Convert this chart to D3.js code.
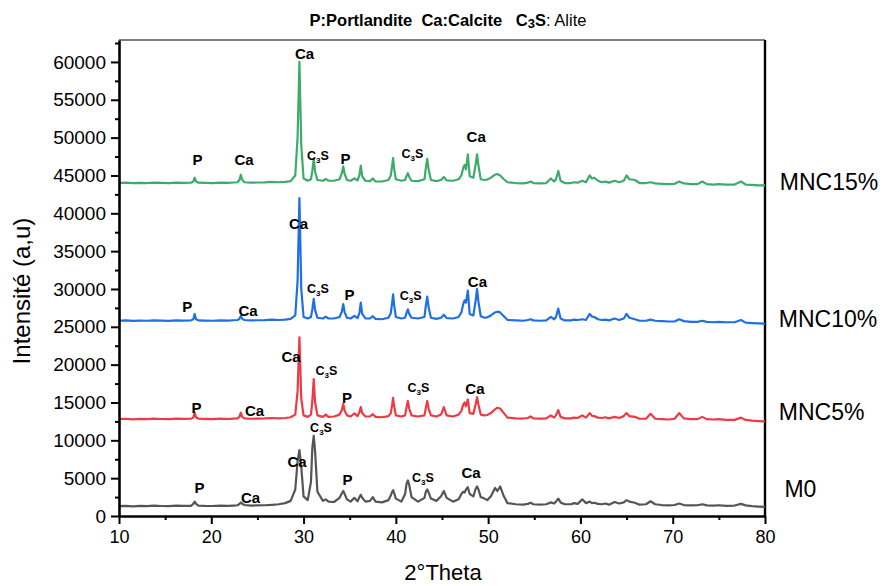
<!DOCTYPE html>
<html>
<head>
<meta charset="utf-8">
<script src="https://cdn.jsdelivr.net/npm/d3@7"></script>
<style>
  body { margin: 0; background: #fff; }
  svg { display: block; }
  text { font-family: "Liberation Sans", Arial, Helvetica, sans-serif; fill: #000; }
</style>
</head>
<body>
<svg id="chart" width="883" height="586"></svg>
<script>
// Diffraction angles shared by all four patterns (2θ, degrees)
const twoTheta = [
  10, 10.7, 11.5, 12.3, 13, 13.8, 14.6, 15.4, 16.2, 17,
  17.8, 18.05, 18.2, 18.35, 18.6,
  19.3, 20.1, 21, 21.8, 22.4,
  22.85, 23.05, 23.2, 23.35, 23.6,
  24.3, 25, 25.8, 26.6, 27.3, 28, 28.6,
  29.1, 29.35, 29.55, 29.75, 30.0,
  30.45,
  30.8, 30.95, 31.1, 31.25, 31.5,
  32.1, 32.4, 32.7,
  33.3,
  33.9, 34.15, 34.3, 34.45, 34.7,
  35.1, 35.5, 35.85, 36.05, 36.2, 36.35, 36.7,
  37.2, 37.5, 37.8,
  38.5, 39.2,
  39.45, 39.6, 39.7, 39.8, 40.0,
  40.6,
  41.0, 41.15, 41.3, 41.45, 41.7,
  42.4,
  43.1, 43.25, 43.4, 43.55, 43.8,
  44.4,
  44.9, 45.2, 45.5,
  46.2, 46.8,
  47.1, 47.3, 47.45, 47.6, 47.8, 48.0,
  48.4, 48.65, 48.8, 48.95, 49.2,
  49.6, 49.9,
  50.3, 50.75, 51.0, 51.3, 51.7, 52.1,
  53.0, 53.8, 54.3, 54.6, 54.9, 55.6, 56.3,
  56.8, 57.15, 57.35, 57.6, 57.85, 58.3,
  59.0, 59.3, 59.7, 60.2, 60.6,
  61.0, 61.25, 61.5, 61.9, 62.3, 62.7, 63.1,
  63.7, 64.2, 64.7, 65.0, 65.3, 65.9, 66.4,
  67.1, 67.6, 68.1, 68.8, 69.6,
  70.2, 70.7, 71.2, 72.0, 72.7, 73.2, 73.7, 74.4,
  75.0, 75.8, 76.7, 77.4, 77.9, 78.6, 79.3, 80
];

// Intensities (a.u.), stacked with an offset per sample
const intensityM0 = [
  1300, 1350, 1280, 1330, 1300, 1360, 1320, 1300, 1370, 1330,
  1350, 1600, 1900, 1600, 1380,
  1340, 1320, 1360, 1330, 1380,
  1420, 1600, 1800, 1620, 1450,
  1380, 1400, 1420, 1480, 1550, 1700, 2000,
  3500, 7200, 8700, 6500, 2600,
  2100,
  4500, 9000, 10600, 8500, 3200,
  2000, 2200, 1900,
  1850,
  2400, 3000, 3300, 2900, 2200,
  1900, 2400, 1950, 2500, 2800, 2400, 1900,
  2000, 2500, 1900,
  1800, 2100,
  2700, 3200, 3400, 3100, 2300,
  1900,
  2900, 4200, 4700, 4100, 2500,
  1900,
  2400, 3200, 3500, 3100, 2300,
  2000,
  2600, 3300, 2400,
  1900, 2200,
  2900, 3200, 3100, 3500, 3800, 2900,
  2600, 3600, 3900, 3500, 2500,
  2300, 2100,
  2600, 3700, 3300, 3900, 2600, 1700,
  1550, 1500, 1600, 1750, 1550, 1500, 1550,
  1800, 1650, 1900, 2300, 1800, 1550,
  1550, 1700, 1600, 2200, 1700,
  1900, 1700, 1750, 1600, 1550, 1650, 1500,
  1850, 1650, 1800, 2100, 1900, 1750, 1500,
  1550, 1950, 1550, 1450, 1400,
  1450, 1650, 1450, 1400, 1420, 1550, 1400, 1380,
  1420, 1350, 1380, 1600, 1400, 1300, 1250, 1200
];

const intensityMNC5 = [
  12800, 12850, 12780, 12830, 12800, 12870, 12820, 12790, 12860, 12830,
  12850, 13000, 13650, 13050, 12850,
  12830, 12800, 12860, 12820, 12880,
  12900, 13100, 13650, 13100, 12900,
  12850, 12880, 12900, 12950, 12900, 12950, 13050,
  13400, 16500, 23600, 15500, 13300,
  13100,
  13400, 15200, 18100, 15000, 13300,
  13100, 13400, 13100,
  13150,
  13400, 14000, 14800, 13900, 13300,
  13150, 13550, 13200, 13700, 14400, 13600, 13150,
  13150, 13450, 13100,
  13050, 13200,
  13600, 14700, 15600, 14600, 13300,
  13150,
  13300, 14300, 15200, 14200, 13300,
  13150,
  13300, 14300, 15200, 14200, 13300,
  13150,
  13400, 14400, 13300,
  13150, 13400,
  13900, 14700, 15000, 14500, 15400, 13600,
  13500, 14800, 15700, 14700, 13400,
  13300, 13350,
  13600, 14100, 14300, 14200, 13600, 13000,
  12900, 12880, 12950, 13150, 12900, 12880, 12900,
  13300, 13000, 13300, 14000, 13100, 12900,
  12900, 13000, 12950, 13300, 13000,
  13600, 13250, 13200, 13000, 12950, 13050, 12900,
  13100, 12950, 13200, 13600, 13200, 13100, 12850,
  12850, 13500, 12850, 12800, 12750,
  12850, 13600, 12900, 12800, 12800, 13100, 12800, 12750,
  12800, 12700, 12700, 13000, 12700, 12600, 12550, 12500
];

const intensityMNC10 = [
  25800, 25850, 25780, 25830, 25800, 25860, 25820, 25790, 25850, 25830,
  25850, 26000, 26700, 26000, 25850,
  25830, 25800, 25850, 25820, 25870,
  25900, 26050, 26450, 26050, 25900,
  25850, 25870, 25880, 25950, 25900, 25950, 26050,
  26500, 31000, 42000, 30000, 26300,
  26100,
  26300, 27300, 28700, 27200, 26200,
  26100, 26350, 26100,
  26100,
  26300, 27000, 28000, 26900, 26200,
  26100, 26450, 26150, 26800, 28200, 26700, 26100,
  26100, 26400, 26050,
  26000, 26200,
  26800, 28200, 29300, 28000, 26300,
  26100,
  26200, 26800, 27300, 26700, 26200,
  26100,
  26300, 27800, 29000, 27600, 26200,
  26050,
  26200, 26600, 26150,
  26100, 26300,
  26900, 28000, 28500, 28200, 29800, 26700,
  26500, 28500, 30000, 28300, 26400,
  26200, 26250,
  26500, 26900, 27000, 26900, 26400, 25900,
  25850, 25800, 25900, 26000, 25850, 25800, 25850,
  26300, 26000, 26300, 27400, 26100, 25850,
  25850, 25950, 25900, 26000, 25900,
  26700, 26350, 26300, 26000, 25900, 25950, 25850,
  26100, 25900, 26100, 26700, 26200, 26000, 25800,
  25800, 25950, 25800, 25750, 25700,
  25700, 26000, 25750, 25650, 25650, 25800, 25650, 25600,
  25650, 25600, 25600, 25900, 25550, 25500, 25450, 25400
];

const intensityMNC15 = [
  44000, 44050, 43980, 44030, 44000, 44060, 44020, 43990, 44050, 44030,
  44050, 44200, 44700, 44200, 44050,
  44030, 44000, 44050, 44020, 44070,
  44100, 44400, 45100, 44400, 44100,
  44050, 44070, 44080, 44150, 44100, 44150, 44250,
  45000, 50000, 60000, 49000, 44600,
  44300,
  44500, 45600, 47200, 45500, 44400,
  44300, 44550, 44300,
  44300,
  44500, 45300, 46200, 45200, 44400,
  44300, 44600, 44350, 45000, 46300, 44900, 44300,
  44250, 44600, 44200,
  44200, 44400,
  45000, 46300, 47300, 46000, 44500,
  44300,
  44400, 44900, 45300, 44800, 44300,
  44250,
  44500, 46000, 47200, 45800, 44400,
  44250,
  44400, 44800, 44350,
  44300, 44500,
  45000, 46000, 46400, 45800, 47800, 44900,
  44700, 46500, 47800, 46300, 44500,
  44400, 44450,
  44700, 45100, 45200, 45000, 44500, 44100,
  44000, 43950, 44050, 44200, 44000, 43950, 44000,
  44600, 44200, 44500, 45600, 44300, 44000,
  44000, 44100, 44050, 44300, 44100,
  45000, 44600, 44700, 44300, 44100, 44200, 44050,
  44300, 44100, 44300, 45000, 44500, 44400, 44000,
  44000, 44100, 43950, 43900, 43850,
  43900, 44200, 43950, 43850, 43850, 44200, 43850, 43800,
  43850, 43800, 43800, 44200, 43800, 43750, 43700, 43700
];

const seriesNames = ["MNC15%", "MNC10%", "MNC5%", "M0"];
const seriesValues = [intensityMNC15, intensityMNC10, intensityMNC5, intensityM0];
const seriesColors = ["#3dab6a", "#1f6fe5", "#ee3b43", "#555555"];

// Where each sample name sits, in chart units [2θ, intensity]
const seriesNameAnchors = [[81.6, 43080], [81.5, 24980], [81.5, 12690], [82.1, 2510]];

// Phase annotations per pattern: [phase, 2θ, intensity]
const phaseLabelsMNC15 = [
  ["P", 18.5, 46380], ["Ca", 23.55, 46380], ["Ca", 30.1, 60400], ["C3S", 31.55, 47050],
  ["P", 34.55, 46520], ["C3S", 41.8, 47310], ["Ca", 48.7, 49420]
];
const phaseLabelsMNC10 = [
  ["P", 17.4, 26960], ["Ca", 23.98, 26430], ["Ca", 29.45, 37930], ["C3S", 31.56, 29470],
  ["P", 34.97, 28550], ["C3S", 41.6, 28550], ["Ca", 48.84, 30260]
];
const phaseLabelsMNC5 = [
  ["P", 18.4, 13610], ["Ca", 24.68, 13220], ["Ca", 28.64, 20350], ["C3S", 32.48, 18630],
  ["P", 34.7, 14930], ["C3S", 42.45, 16390], ["Ca", 48.57, 16120]
];
const phaseLabelsM0 = [
  ["P", 18.72, 3040], ["Ca", 24.25, 1720], ["Ca", 29.29, 6480], ["C3S", 31.89, 11100],
  ["P", 34.76, 4100], ["C3S", 42.94, 4490], ["Ca", 48.14, 5020]
];

const xMajorTicks = [10, 20, 30, 40, 50, 60, 70, 80];
const xMinorTicks = [15, 25, 35, 45, 55, 65, 75];
const yMajorTicks = [0, 5000, 10000, 15000, 20000, 25000, 30000, 35000, 40000, 45000, 50000, 55000, 60000];
const yMinorTicks = [2500, 7500, 12500, 17500, 22500, 27500, 32500, 37500, 42500, 47500, 52500, 57500, 62500];

const xTitle = "2°Theta";
const yTitle = "Intensité (a,u)";

// ---------------------------------------------------------------
const svg = d3.select("#chart");
const plot = { left: 119, right: 765, top: 40, bottom: 516 };

const x = d3.scaleLinear().domain([10, 80]).range([plot.left, plot.right]);
const y = d3.scaleLinear().domain([0, 62900]).range([plot.bottom, plot.top]);

// Frame: top and right edges
svg.append("line").attr("x1", plot.left).attr("x2", plot.right)
  .attr("y1", plot.top).attr("y2", plot.top)
  .attr("stroke", "#000").attr("stroke-width", 1.2);
svg.append("line").attr("x1", plot.right).attr("x2", plot.right)
  .attr("y1", plot.top).attr("y2", plot.bottom)
  .attr("stroke", "#000").attr("stroke-width", 2.4);

// Patterns
const line = d3.line()
  .x((d, i) => x(twoTheta[i]))
  .y(d => y(d));

svg.append("g").selectAll("path")
  .data(seriesValues)
  .join("path")
  .attr("d", d => line(d))
  .attr("fill", "none")
  .attr("stroke", (d, i) => seriesColors[i])
  .attr("stroke-width", 2.2)
  .attr("stroke-linejoin", "round");

// Axes
function styleAxis(g, width) {
  g.select(".domain").attr("stroke", "#000").attr("stroke-width", width);
  g.selectAll(".tick line").attr("stroke", "#000").attr("stroke-width", 2);
  g.selectAll(".tick text").attr("fill", "#000")
    .style("font-family", "'Liberation Sans', Arial, sans-serif");
}

const yAxis = svg.append("g").attr("transform", `translate(${plot.left},0)`)
  .call(d3.axisLeft(y).tickValues(yMajorTicks).tickSize(8).tickSizeOuter(0).tickPadding(5)
    .tickFormat(d3.format("d")));
styleAxis(yAxis, 2.6);
yAxis.selectAll(".tick text").style("font-size", "19px");

svg.append("g").attr("transform", `translate(${plot.left},0)`)
  .call(d3.axisLeft(y).tickValues(yMinorTicks).tickSize(4).tickFormat(""))
  .call(g => { g.select(".domain").remove(); g.selectAll(".tick line").attr("stroke", "#000").attr("stroke-width", 2); });

const xAxis = svg.append("g").attr("transform", `translate(0,${plot.bottom})`)
  .call(d3.axisBottom(x).tickValues(xMajorTicks).tickSize(8).tickSizeOuter(0).tickPadding(6));
styleAxis(xAxis, 2.6);
xAxis.selectAll(".tick text").style("font-size", "18px");

svg.append("g").attr("transform", `translate(0,${plot.bottom})`)
  .call(d3.axisBottom(x).tickValues(xMinorTicks).tickSize(4).tickFormat(""))
  .call(g => { g.select(".domain").remove(); g.selectAll(".tick line").attr("stroke", "#000").attr("stroke-width", 2); });

// Axis titles
svg.append("text")
  .attr("x", (plot.left + plot.right) / 2 + 1).attr("y", 580)
  .attr("text-anchor", "middle")
  .style("font-size", "22px")
  .text(xTitle);

svg.append("text")
  .attr("transform", `translate(30,${291}) rotate(-90)`)
  .attr("text-anchor", "middle")
  .style("font-size", "24px")
  .text(yTitle);

// Legend of phase abbreviations
const title = svg.append("text")
  .attr("x", 448).attr("y", 26)
  .attr("text-anchor", "middle")
  .style("font-size", "16.5px")
  .style("white-space", "pre");
title.append("tspan").attr("font-weight", "bold").text("P:Portlandite  Ca:Calcite   C");
title.append("tspan").attr("font-weight", "bold").attr("font-size", "13px").attr("dy", 2).text("3");
title.append("tspan").attr("font-weight", "bold").attr("dy", -2).text("S");
title.append("tspan").text(": Alite");

// Phase annotations
function drawPhaseLabels(labels) {
  const g = svg.append("g");
  labels.forEach(([phase, tt, val]) => {
    const t = g.append("text")
      .attr("x", x(tt)).attr("y", y(val))
      .attr("text-anchor", "middle")
      .attr("font-weight", "bold");
    if (phase === "C3S") {
      t.style("font-size", "12.5px");
      t.append("tspan").text("C");
      t.append("tspan").attr("font-size", "8px").attr("dy", 3).text("3");
      t.append("tspan").attr("dy", -3).text("S");
    } else {
      t.style("font-size", "15px").text(phase);
    }
  });
}
[phaseLabelsMNC15, phaseLabelsMNC10, phaseLabelsMNC5, phaseLabelsM0].forEach(drawPhaseLabels);

// Sample names
svg.append("g").selectAll("text")
  .data(seriesNames)
  .join("text")
  .attr("x", (d, i) => x(seriesNameAnchors[i][0]))
  .attr("y", (d, i) => y(seriesNameAnchors[i][1]))
  .style("font-size", "23px")
  .text(d => d);
</script>
</body>
</html>
